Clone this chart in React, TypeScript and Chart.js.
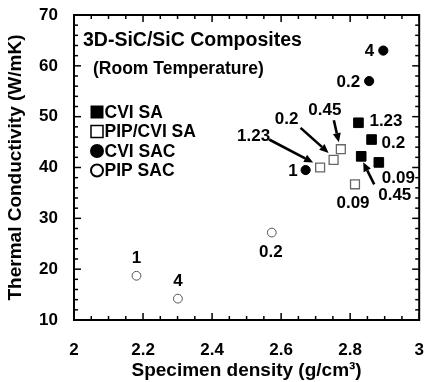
import React, { useEffect, useRef } from 'react';
import { Chart, registerables } from 'chart.js';

Chart.register(...registerables);

// ---------- data ----------
const xTickValues = [2, 2.2, 2.4, 2.6, 2.8, 3];
const yTickValues = [10, 20, 30, 40, 50, 60, 70];
const xMinorStep = 0.05;
const yMinorStep = 2;

const seriesNames = ['CVI SA', 'PIP/CVI SA', 'CVI SAC', 'PIP SAC'];

const cviSaDensity = [2.824, 2.862, 2.832, 2.883];
const cviSaConductivity = [48.8, 45.5, 42.2, 41.0];
const cviSaLabels = ['1.23', '0.2', '0.45', '0.09'];

const pipCviSaDensity = [2.713, 2.752, 2.773, 2.814];
const pipCviSaConductivity = [40.0, 41.5, 43.6, 36.7];
const pipCviSaLabels = ['1.23', '0.2', '0.45', '0.09'];

const cviSacDensity = [2.896, 2.855, 2.671];
const cviSacConductivity = [63.0, 57.0, 39.5];
const cviSacLabels = ['4', '0.2', '1'];

const pipSacDensity = [2.181, 2.301, 2.573];
const pipSacConductivity = [18.7, 14.2, 27.2];
const pipSacLabels = ['1', '4', '0.2'];

const chartTitle = '3D-SiC/SiC Composites';
const chartSubtitle = '(Room Temperature)';
const xTitle = 'Specimen density (g/cm\u00B3)';
const yTitle = 'Thermal Conductivity (W/mK)';

// ---------- layout / style (pixels, relative to the plotted point) ----------
type Placement = { dx: number; dy: number; align: CanvasTextAlign; arrow?: number[] };

const cviSaPlacement: Placement[] = [
  { dx: 11, dy: -1, align: 'left' },
  { dx: 10, dy: 4, align: 'left' },
  { dx: 17, dy: 39, align: 'left', arrow: [13, 28, 2, 6] },
  { dx: 3, dy: 16, align: 'left' },
];
const pipCviSaPlacement: Placement[] = [
  { dx: -50, dy: -31, align: 'right', arrow: [-51, -28, -7, -5] },
  { dx: -47, dy: -41, align: 'center', arrow: [-33, -32, -5, -7] },
  { dx: -16, dy: -39, align: 'center', arrow: [-7, -29, -2, -7] },
  { dx: -2, dy: 19, align: 'center' },
];
const cviSacPlacement: Placement[] = [
  { dx: -9, dy: 1, align: 'right' },
  { dx: -9, dy: 1, align: 'right' },
  { dx: -8, dy: 1, align: 'right' },
];
const pipSacPlacement: Placement[] = [
  { dx: 0, dy: -17, align: 'center' },
  { dx: 0, dy: -17, align: 'center' },
  { dx: -1, dy: 20, align: 'center' },
];

const FONT_FAMILY = '"Liberation Sans", Arial, Helvetica, sans-serif';

const toPoints = (xs: number[], ys: number[]) => xs.map((x, i) => ({ x, y: ys[i] }));

const pointLabels = [cviSaLabels, pipCviSaLabels, cviSacLabels, pipSacLabels];
const placements = [cviSaPlacement, pipCviSaPlacement, cviSacPlacement, pipSacPlacement];

function segment(ctx: CanvasRenderingContext2D, x1: number, y1: number, x2: number, y2: number, w: number) {
  ctx.beginPath();
  ctx.lineWidth = w;
  ctx.strokeStyle = '#000';
  ctx.moveTo(x1, y1);
  ctx.lineTo(x2, y2);
  ctx.stroke();
}

function drawArrow(ctx: CanvasRenderingContext2D, x1: number, y1: number, x2: number, y2: number) {
  const ang = Math.atan2(y2 - y1, x2 - x1);
  const headLen = 9;
  const headW = 4;
  const bx = x2 - headLen * Math.cos(ang);
  const by = y2 - headLen * Math.sin(ang);
  ctx.save();
  ctx.fillStyle = '#000';
  segment(ctx, x1, y1, bx, by, 2.6);
  ctx.beginPath();
  ctx.moveTo(x2, y2);
  ctx.lineTo(bx + headW * Math.sin(ang), by - headW * Math.cos(ang));
  ctx.lineTo(bx - headW * Math.sin(ang), by + headW * Math.cos(ang));
  ctx.closePath();
  ctx.fill();
  ctx.restore();
}

const framePlugin = {
  id: 'plotFrame',
  afterDraw(chart: any) {
    const ctx: CanvasRenderingContext2D = chart.ctx;
    const xs = chart.scales.x;
    const ys = chart.scales.y;
    const x0 = xTickValues[0];
    const x1 = xTickValues[xTickValues.length - 1];
    const y0 = yTickValues[0];
    const y1 = yTickValues[yTickValues.length - 1];
    const L = xs.getPixelForValue(x0);
    const R = xs.getPixelForValue(x1);
    const T = ys.getPixelForValue(y1);
    const B = ys.getPixelForValue(y0);
    ctx.save();
    const nX = Math.round((x1 - x0) / xMinorStep);
    for (let i = 0; i <= nX; i += 1) {
      const px = xs.getPixelForValue(x0 + i * xMinorStep);
      const len = i % 4 === 0 ? 7 : 4;
      segment(ctx, px, B, px, B - len, 1.5);
      segment(ctx, px, T, px, T + len, 1.5);
    }
    const nY = Math.round((y1 - y0) / yMinorStep);
    for (let i = 0; i <= nY; i += 1) {
      const py = ys.getPixelForValue(y0 + i * yMinorStep);
      const len = i % 5 === 0 ? 7 : 4;
      segment(ctx, L, py, L + len, py, 1.5);
      segment(ctx, R, py, R - len, py, 1.5);
    }
    ctx.lineWidth = 2;
    ctx.strokeStyle = '#000';
    ctx.strokeRect(L, T, R - L, B - T);
    ctx.restore();
  },
};

const annotationPlugin = {
  id: 'plotAnnotations',
  afterDatasetsDraw(chart: any) {
    const ctx: CanvasRenderingContext2D = chart.ctx;
    const a = chart.chartArea;

    ctx.save();
    ctx.fillStyle = '#000';
    ctx.font = `bold 17px ${FONT_FAMILY}`;
    ctx.textBaseline = 'middle';
    chart.data.datasets.forEach((_ds: any, i: number) => {
      const meta = chart.getDatasetMeta(i);
      meta.data.forEach((el: any, j: number) => {
        const p = placements[i][j];
        ctx.textAlign = p.align;
        ctx.fillText(pointLabels[i][j], el.x + p.dx, el.y + p.dy);
        if (p.arrow) {
          drawArrow(ctx, el.x + p.arrow[0], el.y + p.arrow[1], el.x + p.arrow[2], el.y + p.arrow[3]);
        }
      });
    });

    ctx.textBaseline = 'middle';
    ctx.textAlign = 'left';
    ctx.font = `bold 19.5px ${FONT_FAMILY}`;
    ctx.fillText(chartTitle, a.left + 9, a.top + 26);
    ctx.font = `bold 17.5px ${FONT_FAMILY}`;
    ctx.fillText(chartSubtitle, a.left + 19, a.top + 54);

    const legendX = a.left + 23;
    const legendY0 = a.top + 97;
    const rowH = 19.5;
    chart.data.datasets.forEach((ds: any, i: number) => {
      const cy = legendY0 + i * rowH;
      ctx.save();
      ctx.strokeStyle = '#000';
      ctx.fillStyle = '#000';
      if (i === 0) {
        ctx.fillRect(legendX - 6.5, cy - 6.5, 13, 13);
      } else if (i === 1) {
        ctx.lineWidth = 1.5;
        ctx.strokeRect(legendX - 6, cy - 6, 12, 12);
      } else if (i === 2) {
        ctx.beginPath();
        ctx.arc(legendX, cy, 7, 0, Math.PI * 2);
        ctx.fill();
      } else {
        ctx.lineWidth = 2;
        ctx.beginPath();
        ctx.arc(legendX, cy, 6, 0, Math.PI * 2);
        ctx.stroke();
      }
      ctx.restore();
      ctx.font = `bold 17.5px ${FONT_FAMILY}`;
      ctx.textAlign = 'left';
      ctx.textBaseline = 'middle';
      ctx.fillStyle = '#000';
      ctx.fillText(ds.label, legendX + 7.5, cy + 1);
    });
    ctx.restore();
  },
};

export default function App() {
  const canvasRef = useRef<HTMLCanvasElement | null>(null);

  useEffect(() => {
    if (!canvasRef.current) return;
    const chart = new Chart(canvasRef.current, {
      type: 'scatter',
      data: {
        datasets: [
          {
            label: seriesNames[0],
            data: toPoints(cviSaDensity, cviSaConductivity),
            pointStyle: 'rect',
            pointRadius: 6.8,
            backgroundColor: '#000',
            borderColor: '#000',
            borderWidth: 1,
          },
          {
            label: seriesNames[1],
            data: toPoints(pipCviSaDensity, pipCviSaConductivity),
            pointStyle: 'rect',
            pointRadius: 6.3,
            backgroundColor: '#fff',
            borderColor: '#666',
            borderWidth: 1.3,
          },
          {
            label: seriesNames[2],
            data: toPoints(cviSacDensity, cviSacConductivity),
            pointStyle: 'circle',
            pointRadius: 4.6,
            backgroundColor: '#000',
            borderColor: '#000',
            borderWidth: 1,
          },
          {
            label: seriesNames[3],
            data: toPoints(pipSacDensity, pipSacConductivity),
            pointStyle: 'circle',
            pointRadius: 4.4,
            backgroundColor: 'rgba(255,255,255,0)',
            borderColor: '#555',
            borderWidth: 1,
          },
        ],
      },
      options: {
        animation: false,
        responsive: false,
        devicePixelRatio: 1,
        layout: { padding: { left: 0, top: 15, right: 0, bottom: 0 } },
        plugins: {
          legend: { display: false },
          tooltip: { enabled: false },
        },
        scales: {
          x: {
            type: 'linear',
            min: 2,
            max: 3,
            afterBuildTicks: (scale: any) => {
              scale.ticks = xTickValues.map((v) => ({ value: v }));
            },
            afterFit: (scale: any) => {
              scale.height = 62;
              scale.paddingLeft = 0;
              scale.paddingRight = 4;
            },
            grid: { display: false },
            border: { display: true, color: '#000', width: 2 },
            ticks: {
              padding: 12,
              color: '#000',
              maxRotation: 0,
              autoSkip: false,
              font: { family: FONT_FAMILY, size: 17, weight: 'bold' },
              callback: (v: any) => String(Math.round(Number(v) * 10) / 10),
            },
            title: {
              display: true,
              text: xTitle,
              color: '#000',
              padding: { top: 0, bottom: 0 },
              font: { family: FONT_FAMILY, size: 19, weight: 'bold' },
            },
          },
          y: {
            type: 'linear',
            min: 10,
            max: 70,
            afterBuildTicks: (scale: any) => {
              scale.ticks = yTickValues.map((v) => ({ value: v }));
            },
            afterFit: (scale: any) => {
              scale.width = 74;
              scale.paddingTop = 0;
              scale.paddingBottom = 0;
            },
            grid: { display: false },
            border: { display: true, color: '#000', width: 2 },
            ticks: {
              padding: 8,
              color: '#000',
              autoSkip: false,
              font: { family: FONT_FAMILY, size: 17, weight: 'bold' },
              callback: (v: any) => String(v),
            },
            title: {
              display: true,
              text: yTitle,
              color: '#000',
              padding: { top: 4, bottom: 0 },
              font: { family: FONT_FAMILY, size: 19, weight: 'bold' },
            },
          },
        },
      } as any,
      plugins: [annotationPlugin, framePlugin],
    });
    return () => chart.destroy();
  }, []);

  return (
    <div style={{ position: 'absolute', left: 0, top: 0, width: 427, height: 382, background: '#fff' }}>
      <canvas ref={canvasRef} width={427} height={382} style={{ width: 427, height: 382, display: 'block' }} />
    </div>
  );
}
